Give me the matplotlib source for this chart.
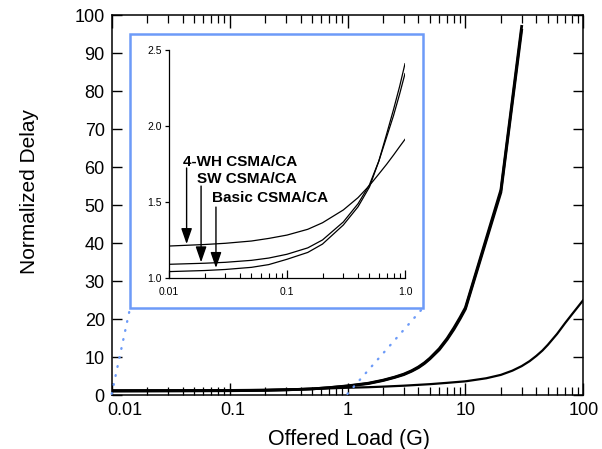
import matplotlib
matplotlib.use("Agg")
import matplotlib.pyplot as plt
import matplotlib.transforms as mtransforms
from matplotlib.patches import Rectangle, ConnectionPatch
from matplotlib.ticker import NullLocator, LogLocator

plt.rcParams['font.family'] = ['Liberation Sans', 'DejaVu Sans']

# ---------------- data ----------------
# main plot
load_main_basic = [0.01, 0.1, 0.2, 0.3, 0.5, 0.7, 1, 1.5, 2, 2.5, 3, 3.5, 4, 4.5, 5, 6, 7, 8, 9, 10, 20, 30]
delay_main_basic = [1.04, 1.12, 1.22, 1.35, 1.60, 1.95, 2.41, 3.1, 3.9, 4.7, 5.5, 6.4, 7.4, 8.5, 9.7,
                    12.2, 14.9, 17.7, 20.4, 23.0, 54.0, 97.0]
load_main_sw = [0.01, 0.1, 0.2, 0.3, 0.5, 0.7, 1, 1.5, 2, 2.5, 3, 3.5, 4, 4.5, 5, 6, 7, 8, 9, 10, 20, 30]
delay_main_sw = [1.09, 1.16, 1.25, 1.37, 1.61, 1.93, 2.35, 3.0, 3.8, 4.6, 5.35, 6.25, 7.2, 8.3, 9.5,
                 11.9, 14.6, 17.3, 20.0, 22.6, 53.3, 96.0]
load_main_4wh = [0.01, 0.1, 0.2, 0.3, 0.5, 0.7, 1, 1.5, 2, 3, 5, 7, 10, 15, 20, 25, 30, 35, 40, 45, 50,
                 60, 70, 80, 90, 100]
delay_main_4wh = [1.21, 1.28, 1.36, 1.45, 1.61, 1.75, 1.91, 2.05, 2.2, 2.45, 2.85, 3.2, 3.6, 4.4, 5.3,
                  6.4, 7.6, 8.9, 10.3, 11.7, 13.2, 16.1, 18.9, 21.2, 23.2, 25.0]

# inset (zoom on 0.01..1)
load_inset = [0.01, 0.02, 0.03, 0.05, 0.07, 0.1, 0.15, 0.2, 0.3, 0.4, 0.5, 0.6, 0.7, 0.8, 0.9, 1.0]
delay_inset_4wh = [1.212, 1.222, 1.23, 1.245, 1.262, 1.284, 1.322, 1.365, 1.449, 1.53, 1.61, 1.685,
                   1.75, 1.81, 1.865, 1.913]
delay_inset_sw = [1.092, 1.099, 1.105, 1.118, 1.133, 1.158, 1.20, 1.252, 1.37, 1.49, 1.615, 1.77,
                  1.93, 2.07, 2.21, 2.345]
delay_inset_basic = [1.044, 1.051, 1.058, 1.072, 1.09, 1.125, 1.17, 1.225, 1.35, 1.47, 1.60, 1.77,
                     1.95, 2.11, 2.26, 2.41]

main_xticks = [0.01, 0.1, 1, 10, 100]
main_xticklabels = ['0.01', '0.1', '1', '10', '100']
main_yticks = [0, 10, 20, 30, 40, 50, 60, 70, 80, 90, 100]
inset_xticks = [0.01, 0.1, 1.0]
inset_xticklabels = ['0.01', '0.1', '1.0']
inset_yticks = [1.0, 1.5, 2.0, 2.5]
inset_yticklabels = ['1.0', '1.5', '2.0', '2.5']

labels = ['4-WH CSMA/CA', 'SW CSMA/CA', 'Basic CSMA/CA']
label_pos = [(0.0131, 1.738), (0.0172, 1.628), (0.0233, 1.503)]
arrow_tail = [(0.0141, 1.725), (0.0187, 1.606), (0.025, 1.468)]
arrow_tip = [(0.0141, 1.225), (0.0187, 1.105), (0.025, 1.068)]

W, H = 602, 449
fig = plt.figure(figsize=(W / 100, H / 100), dpi=100)

# ---------------- main axes ----------------
L, R, T, B = 111.7, 583.3, 15, 395
ax = fig.add_axes([L / W, 1 - B / H, (R - L) / W, (B - T) / H])
ax.plot(load_main_4wh, delay_main_4wh, color='k', lw=1.6, solid_joinstyle='round')
ax.plot(load_main_sw, delay_main_sw, color='k', lw=2.0, solid_joinstyle='round')
ax.plot(load_main_basic, delay_main_basic, color='k', lw=2.0, solid_joinstyle='round')
ax.set_xscale('log')
ax.set_xlim(0.01, 100)
ax.set_ylim(0, 100)
ax.set_xticks(main_xticks, main_xticklabels)
ax.xaxis.set_minor_locator(LogLocator(base=10, subs=range(2, 10), numticks=20))
ax.set_yticks(main_yticks)
ax.yaxis.set_minor_locator(NullLocator())
ax.tick_params(which='both', direction='in', top=True, right=True, labelsize=13)
ax.tick_params(axis='x', which='major', length=9, width=1, pad=5)
ax.tick_params(axis='x', which='minor', length=5.5, width=0.9)
ax.tick_params(axis='y', which='major', length=7, width=1, pad=5)
for s in ax.spines.values():
    s.set_linewidth(1.1)
# shift the first two x tick labels right as in the reference
for lab, dx in zip(ax.get_xticklabels()[:2], [13, 3]):
    lab.set_transform(lab.get_transform() + mtransforms.ScaledTranslation(dx / 100, 0, fig.dpi_scale_trans))

fig.text(349 / W, 1 - 440 / H, 'Offered Load (G)', ha='center', va='center', fontsize=15.5)
fig.text(30 / W, 1 - 191 / H, 'Normalized Delay', ha='center', va='center', rotation=90, fontsize=15)

# ---------------- inset box & connectors ----------------
blue = '#6d9bf8'
bx0, by0, bx1, by1 = 130, 34.3, 422.7, 308.3
fig.add_artist(Rectangle((bx0 / W, 1 - by1 / H), (bx1 - bx0) / W, (by1 - by0) / H,
                         transform=fig.transFigure, fill=False, edgecolor=blue, lw=1.8, zorder=3))
for xa, xb in [(0.01, bx0), (1.0, bx1)]:
    cp = ConnectionPatch(xyA=(xa, 0.3), coordsA=ax.transData,
                         xyB=(xb / W, 1 - by1 / H), coordsB=fig.transFigure,
                         color=blue, lw=1.7, linestyle=(0, (0.3, 3.6)))
    cp.set_capstyle('round')
    fig.add_artist(cp)

# ---------------- inset axes ----------------
iL, iR, iT, iB = 169, 405, 50, 278.3
axi = fig.add_axes([iL / W, 1 - iB / H, (iR - iL) / W, (iB - iT) / H])
axi.patch.set_alpha(0)
axi.plot(load_inset, delay_inset_4wh, color='k', lw=0.9)
axi.plot(load_inset, delay_inset_sw, color='k', lw=0.9)
axi.plot(load_inset, delay_inset_basic, color='k', lw=0.9)
axi.set_xscale('log')
axi.set_xlim(0.01, 1.0)
axi.set_ylim(1.0, 2.5)
axi.spines['top'].set_visible(False)
axi.spines['right'].set_visible(False)
axi.spines['left'].set_linewidth(0.9)
axi.spines['bottom'].set_linewidth(0.9)
axi.set_xticks(inset_xticks, inset_xticklabels)
axi.xaxis.set_minor_locator(LogLocator(base=10, subs=range(2, 10), numticks=20))
axi.set_yticks(inset_yticks, inset_yticklabels)
axi.yaxis.set_minor_locator(NullLocator())
axi.tick_params(axis='x', which='major', direction='in', length=6, width=0.9, labelsize=7.5, pad=6)
axi.tick_params(axis='x', which='minor', direction='in', length=3.5, width=0.8)
axi.tick_params(axis='y', which='major', direction='out', length=3, width=0.9, labelsize=7.5, pad=2)

for txt, pos in zip(labels, label_pos):
    axi.text(pos[0], pos[1], txt, fontsize=11, fontweight='bold', ha='left', va='baseline')
for tail, tip in zip(arrow_tail, arrow_tip):
    axi.annotate('', xy=tip, xytext=tail,
                 arrowprops=dict(arrowstyle='-|>,head_length=0.95,head_width=0.33',
                                 mutation_scale=10, lw=1.0, color='k',
                                 shrinkA=0, shrinkB=0))

fig.savefig('out.png', dpi=100)
